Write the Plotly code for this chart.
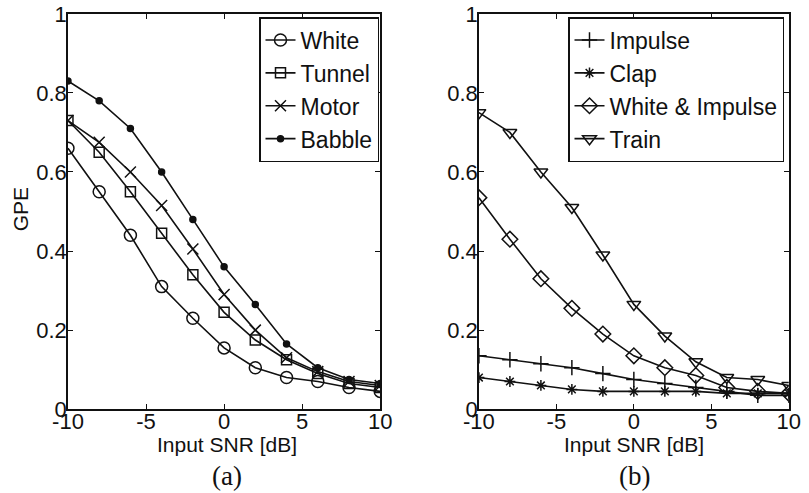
import plotly.graph_objects as go
from plotly.subplots import make_subplots

snr = [-10, -8, -6, -4, -2, 0, 2, 4, 6, 8, 10]

# Panel (a): stationary noises
white = [0.66, 0.55, 0.44, 0.31, 0.23, 0.155, 0.105, 0.08, 0.07, 0.055, 0.045]
tunnel = [0.73, 0.65, 0.55, 0.445, 0.34, 0.245, 0.175, 0.125, 0.09, 0.065, 0.055]
motor = [0.73, 0.675, 0.60, 0.515, 0.405, 0.29, 0.20, 0.13, 0.095, 0.07, 0.06]
babble = [0.83, 0.78, 0.71, 0.60, 0.48, 0.36, 0.265, 0.165, 0.105, 0.075, 0.065]

# Panel (b): transient noises
impulse = [0.135, 0.125, 0.115, 0.105, 0.09, 0.075, 0.065, 0.055, 0.045, 0.035, 0.035]
clap = [0.08, 0.07, 0.06, 0.05, 0.045, 0.045, 0.045, 0.045, 0.04, 0.04, 0.04]
white_impulse = [0.535, 0.43, 0.33, 0.255, 0.19, 0.135, 0.105, 0.085, 0.055, 0.045, 0.04]
train = [0.75, 0.70, 0.60, 0.51, 0.39, 0.265, 0.185, 0.12, 0.08, 0.075, 0.06]

x_ticks = [-10, -5, 0, 5, 10]
x_tick_text = ["-10", "-5", "0", "5", "10"]
y_ticks = [0, 0.2, 0.4, 0.6, 0.8, 1]
y_tick_text = ["0", "0.2", "0.4", "0.6", "0.8", "1"]

FONT = "Liberation Sans, Arial, sans-serif"
INK = "#111111"

fig = make_subplots(rows=1, cols=2)

left_series = [
    ("White", white, "circle-open", 12),
    ("Tunnel", tunnel, "square-open", 10),
    ("Motor", motor, "x-thin-open", 11),
    ("Babble", babble, "circle", 6),
]
right_series = [
    ("Impulse", impulse, "cross-thin-open", 11),
    ("Clap", clap, "asterisk-open", 9),
    ("White & Impulse", white_impulse, "diamond-open", 12),
    ("Train", train, "triangle-down-open", 12),
]

for name, vals, sym, size in left_series:
    fig.add_trace(go.Scatter(
        x=snr, y=vals, name=name, mode="lines+markers",
        line=dict(color=INK, width=1.6),
        marker=dict(symbol=sym, size=size, color=INK, line=dict(color=INK, width=1.5)),
        legend="legend",
    ), row=1, col=1)

for name, vals, sym, size in right_series:
    fig.add_trace(go.Scatter(
        x=snr, y=vals, name=name, mode="lines+markers",
        line=dict(color=INK, width=1.6),
        marker=dict(symbol=sym, size=size, color=INK, line=dict(color=INK, width=1.5)),
        legend="legend2",
    ), row=1, col=2)

axis_common = dict(
    showline=True, linecolor=INK, linewidth=1.5, mirror="ticks",
    ticks="inside", ticklen=5, tickcolor=INK, tickwidth=1,
    showgrid=False, zeroline=False, automargin=False,
    tickfont=dict(family=FONT, size=22, color=INK),
)

fig.update_xaxes(range=[-10, 10], tickvals=x_ticks, ticktext=x_tick_text,
                 ticklabelstandoff=-8, **axis_common)
fig.update_yaxes(range=[0, 1], tickvals=y_ticks, ticktext=y_tick_text,
                 ticklabelstandoff=-5, **axis_common)

fig.update_layout(
    xaxis=dict(domain=[0.084, 0.470]),
    xaxis2=dict(domain=[0.592, 0.975]),
    yaxis=dict(domain=[0.170, 0.972]),
    yaxis2=dict(domain=[0.170, 0.972]),
)

fig.add_annotation(text="GPE", xref="paper", yref="paper", x=0.025, y=0.576,
                   textangle=-90, showarrow=False, xanchor="center", yanchor="middle",
                   font=dict(family=FONT, size=21, color=INK))
for cx in (0.28, 0.784):
    fig.add_annotation(text="Input SNR [dB]", xref="paper", yref="paper",
                       x=cx, y=1 - 444 / 493, showarrow=False,
                       xanchor="center", yanchor="middle",
                       font=dict(family=FONT, size=21, color=INK))
for cx, lab in ((0.281, "(a)"), (0.784, "(b)")):
    fig.add_annotation(text=lab, xref="paper", yref="paper",
                       x=cx, y=1 - 476 / 493, showarrow=False,
                       xanchor="center", yanchor="middle",
                       font=dict(family="Liberation Serif, Times New Roman, serif",
                                 size=27, color=INK))

legend_common = dict(
    xanchor="right", yanchor="top",
    bgcolor="white", bordercolor=INK, borderwidth=1.5,
    font=dict(family=FONT, size=23, color=INK),
    itemwidth=30, tracegroupgap=0,
)
fig.update_layout(
    legend=dict(x=379 / 809, y=1 - 17 / 493, **legend_common),
    legend2=dict(x=784 / 809, y=1 - 17 / 493, **legend_common),
    showlegend=True,
    width=809, height=493,
    margin=dict(l=0, r=0, t=0, b=0),
    paper_bgcolor="white", plot_bgcolor="white",
)

fig.write_html("out.html")
